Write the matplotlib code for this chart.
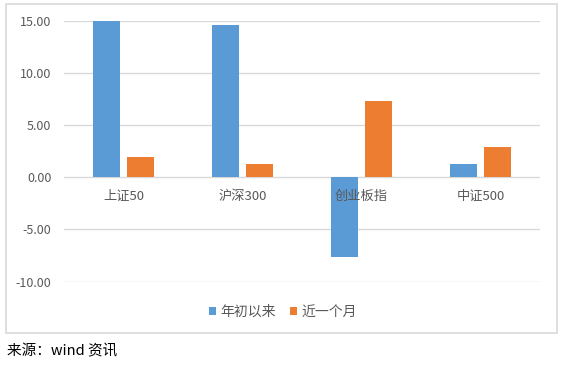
import matplotlib
matplotlib.use("Agg")
import matplotlib.pyplot as plt
import matplotlib.transforms as mtransforms
import numpy as np
from matplotlib.patches import Rectangle

plt.rcParams["font.family"] = ["Noto Sans CJK SC", "DejaVu Sans"]

categories = ["上证50", "沪深300", "创业板指", "中证500"]
ytd = [15.0, 14.6, -7.68, 1.27]        # 年初以来
last_month = [1.91, 1.24, 7.34, 2.87]  # 近一个月
yticks = [-10, -5, 0, 5, 10, 15]

BLUE = "#5B9BD5"
ORANGE = "#ED7D31"
GRID = "#D9D9D9"
TXT = "#595959"

W, H = 562, 365
fig = plt.figure(figsize=(W / 100, H / 100), dpi=100)
ax = fig.add_axes([64 / W, 1 - 281.7 / H, (540 - 64) / W, (281.7 - 20.7) / H])
ax.set_axisbelow(True)

x = np.arange(len(categories))
bw = 0.227
off = 0.143
ax.bar(x - off, ytd, bw, color=BLUE, label="年初以来", zorder=3)
ax.bar(x + off, last_month, bw, color=ORANGE, label="近一个月", zorder=3)

ax.set_xlim(-0.5, len(categories) - 0.5)
ax.set_ylim(-10, 15)
ax.set_yticks(yticks)
ax.set_yticklabels([f"{v:.2f}" for v in yticks])
ax.yaxis.grid(True, color=GRID, linewidth=1)
ax.tick_params(axis="y", length=0, pad=9, labelsize=9, labelcolor=TXT)
for s in ["top", "right", "left", "bottom"]:
    ax.spines[s].set_visible(False)
ax.set_xticks([])

# category labels next to the zero line, drawn over the bars
lab_tr = mtransforms.offset_copy(ax.transData, fig=fig, x=0, y=-13.5, units="points")
for xi, name in zip(x, categories):
    ax.text(xi, 0, name, transform=lab_tr, ha="center", va="center",
            fontsize=9.5, color=TXT, zorder=5)

fig.legend(loc="center", bbox_to_anchor=(283 / W, 1 - 311.7 / H), ncol=2,
           frameon=False, fontsize=10, labelcolor=TXT,
           handlelength=0.5, handleheight=0.5, handletextpad=0.35,
           columnspacing=1.0)

# outer chart border
fig.patches.append(Rectangle((6 / W, 1 - 333.3 / H), (556.7 - 6) / W,
                             (333.3 - 4) / H, transform=fig.transFigure,
                             fill=False, edgecolor=GRID, linewidth=1.2))

fig.text(7 / W, 1 - 351.7 / H, "来源：wind 资讯", fontsize=10.5,
         color="black", va="center", ha="left")

fig.savefig("out.png", dpi=100, facecolor="white")
